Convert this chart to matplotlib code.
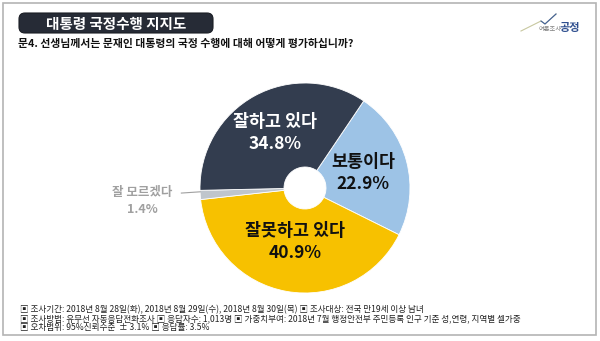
import numpy as np
import matplotlib.pyplot as plt
from matplotlib.patches import FancyBboxPatch, Rectangle

plt.rcParams['font.family'] = ['Noto Sans CJK KR', 'DejaVu Sans']

# 응답 항목 (시계 방향 순서)
labels = ['보통이다', '잘못하고 있다', '잘 모르겠다', '잘하고 있다']
values = [22.9, 40.9, 1.4, 34.8]
colors = ['#9dc3e6', '#f7c100', '#bfc5cc', '#333d4f']
text_colors = ['#111111', '#111111', '#a0a0a0', '#ffffff']
label_r = [0.57, 0.52, 1.55, 0.60]

title = '대통령 국정수행 지지도'
question = '문4. 선생님께서는 문재인 대통령의 국정 수행에 대해 어떻게 평가하십니까?'
notes = [
    '▣ 조사기간: 2018년 8월 28일(화), 2018년 8월 29일(수), 2018년 8월 30일(목) ▣ 조사대상: 전국 만19세 이상 남녀',
    '▣ 조사방법: 유무선 자동응답전화조사 ▣ 응답자수: 1,013명 ▣ 가중치부여: 2018년 7월 행정안전부 주민등록 인구 기준 성,연령, 지역별 셀가중',
    '▣ 오차범위: 95%신뢰수준  ± 3.1% ▣ 응답률: 3.5%',
]

W, H = 600, 341
fig = plt.figure(figsize=(W / 100, H / 100), dpi=100)
fig.patch.set_facecolor('white')

# 배경용 축 (픽셀 좌표)
bg = fig.add_axes([0, 0, 1, 1])
bg.set_xlim(0, W)
bg.set_ylim(H, 0)
bg.axis('off')
bg.add_patch(Rectangle((3, 3), 593, 332, fill=False, edgecolor='#b4b4b4', lw=1.2))

# 제목 박스
bg.add_patch(FancyBboxPatch((19, 13), 194, 20, boxstyle='round,pad=0,rounding_size=6',
                            facecolor='#262b36', edgecolor='#1a1d24', lw=0.8))
bg.text(116, 23.5, title, color='white', fontsize=10.5, fontweight='bold',
        ha='center', va='center')
bg.text(18, 44, question, color='#111111', fontsize=7.8, fontweight='bold',
        ha='left', va='center')

# 로고
bg.plot([521, 541, 545, 556], [31, 21, 24, 14], color='#c8c8a0', lw=0.8)
bg.plot([541, 545, 556], [21, 24, 14], color='#3f5f9a', lw=0.8)
bg.text(550, 29, '여론조사', color='#808080', fontsize=4.5, ha='center', va='center')
bg.text(570, 28, '공정', color='#2f4f8f', fontsize=8, fontweight='bold',
        ha='center', va='center')

for i, line in enumerate(notes):
    bg.text(20, 310 + i * 8.6, line, color='#222222', fontsize=6.2,
            ha='left', va='center')

# 도넛 차트
cx, cy, r = 305, 188, 105
ax = fig.add_axes([(cx - r) / W, (H - cy - r) / H, 2 * r / W, 2 * r / H])

wedges, _ = ax.pie(values, colors=colors, startangle=56, counterclock=False,
                   radius=1, wedgeprops=dict(width=0.8, edgecolor='white', linewidth=0.6))
ax.set_xlim(-1, 1)
ax.set_ylim(-1, 1)
ax.set_aspect('equal')
ax.axis('off')

for w, lab, val, tc, lr in zip(wedges, labels, values, text_colors, label_r):
    mid = np.deg2rad((w.theta1 + w.theta2) / 2)
    x, y = lr * np.cos(mid), lr * np.sin(mid)
    if val < 5:
        ax.plot([np.cos(mid), 1.18 * np.cos(mid)], [np.sin(mid) + 0.03, 1.18 * np.sin(mid) + 0.03],
                color='#a0a0a0', lw=0.8, clip_on=False)
        ax.text(x, y + 0.06, lab, color=tc, fontsize=9, fontweight='bold',
                ha='center', va='center')
        ax.text(x, y - 0.1, f'{val}%', color=tc, fontsize=9, fontweight='bold',
                ha='center', va='center')
    else:
        ax.text(x, y + 0.105, lab, color=tc, fontsize=12.5, fontweight='bold',
                ha='center', va='center')
        ax.text(x, y - 0.105, f'{val}%', color=tc, fontsize=12.5, fontweight='bold',
                ha='center', va='center')

fig.savefig('out.png', dpi=100)
